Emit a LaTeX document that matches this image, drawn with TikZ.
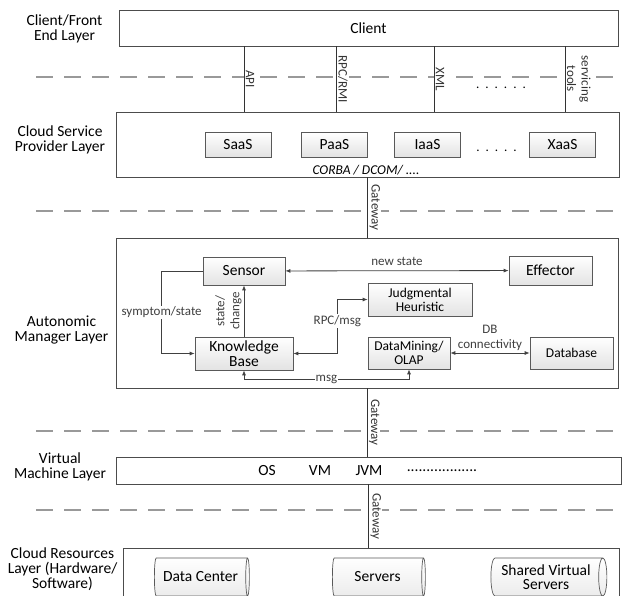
\documentclass[tikz,border=0pt]{standalone}
\usepackage{fontspec}
\setmainfont{Carlito}
\usetikzlibrary{positioning, arrows.meta, shapes.geometric, calc}

\begin{document}
\begin{tikzpicture}[
    x=1pt, y=-1pt,
    tierbox/.style={draw=black!70, fill=white, rectangle, line width=0.8pt,
                    inner sep=0pt, font=\fontsize{15.5}{15}\selectfont},
    tiername/.style={align=center, font=\fontsize{15.5}{15}\selectfont},
    unit/.style={draw=black!65, top color=white, bottom color=gray!22,
                 rectangle, line width=0.7pt, align=center, inner sep=1pt,
                 font=\fontsize{15.5}{15}\selectfont},
    smallunit/.style={unit, font=\fontsize{13.5}{14}\selectfont},
    store/.style={cylinder, draw=black!65, top color=white, bottom color=gray!15,
                  line width=0.7pt, shape aspect=0.3, align=center, inner sep=1pt,
                  minimum width=38pt, font=\fontsize{15.5}{14.5}\selectfont},
    divider/.style={gray!80, line width=1.1pt, dash pattern=on 17pt off 11pt},
    wire/.style={black!80, line width=0.9pt},
    wirelabel/.style={midway, sloped, above=0.5pt, fill=white, inner sep=1pt,
                      align=center, font=\fontsize{13}{14.5}\selectfont},
    flow/.style={black!75, line width=0.8pt, -{Latex[length=5pt, width=4pt]}},
    flowboth/.style={flow, {Latex[length=5pt, width=4pt]}-{Latex[length=5pt, width=4pt]}},
    flowlabel/.style={fill=white, inner sep=1pt, align=center,
                      font=\fontsize{13}{15}\selectfont},
    plain/.style={font=\fontsize{15.5}{15}\selectfont},
    dotrow/.style={font=\fontsize{13}{13}\selectfont},
]
\clip (0,0) rectangle (623,596);

% separators between the layers
\foreach \yy in {77, 211, 431, 510}
  \draw[divider] (36,\yy) -- (623,\yy);

% layers
\node[tierbox, minimum width=499pt, minimum height=36pt] (client) at (368.5,28) {Client};
\node[tierbox, minimum width=503pt, minimum height=65pt] (cloud) at (367.5,144.5) {};
\node[tierbox, minimum width=502pt, minimum height=150pt] (autonomic) at (367,313) {};
\node[tierbox, minimum width=505pt, minimum height=27pt] (vm) at (368.5,470.5) {};
\node[tierbox, minimum width=496pt, minimum height=70pt, anchor=north] (resources) at (371,548) {};

\node[tiername] (clientname) at (64.5,29) {Client/Front\\End Layer};
\node[tiername] (cloudname) at (60,140) {Cloud Service\\Provider Layer};
\node[tiername] (autoname) at (61.5,330) {Autonomic\\Manager Layer};
\node[tiername] (vmname) at (60,467) {Virtual\\Machine Layer};
\node[tiername] (resname) at (62.5,569) {Cloud Resources\\Layer (Hardware/\\Software)};

% client -> provider interfaces
\foreach \xx/\proto in {244/API, 336/{RPC/RMI}, 434/XML, 565/{servicing\\tools}}
  \draw[wire] (client.south -| \xx,0) -- (cloud.north -| \xx,0)
    node[wirelabel] {\proto};
\node[dotrow] (dotsa) at (501,88) {.\hspace{6pt}.\hspace{6pt}.\hspace{6pt}.\hspace{6pt}.\hspace{6pt}.};

% provider layer
\node[unit, minimum width=66pt, minimum height=25pt] (saas) at (238,144.5) {SaaS};
\node[unit, minimum width=66pt, minimum height=25pt] (paas) at (334.5,144.5) {PaaS};
\node[unit, minimum width=66pt, minimum height=25pt] (iaas) at (427.5,144.5) {IaaS};
\node[unit, minimum width=66pt, minimum height=25pt] (xaas) at (562.5,144.5) {XaaS};
\node[dotrow] (dotsb) at (496.5,151) {.\hspace{6pt}.\hspace{6pt}.\hspace{6pt}.\hspace{6pt}.};
\node[font=\fontsize{13.5}{14}\selectfont\itshape] (corba) at (366,170) {CORBA / DCOM/ ....};

% gateways
\draw[wire] (cloud.south) -- (cloud.south |- autonomic.north) node[wirelabel] {Gateway};
\draw[wire] (autonomic.south) -- (autonomic.south |- vm.north) node[wirelabel] {Gateway};
\draw[wire] (vm.south) -- (vm.south |- resources.north) node[wirelabel] {Gateway};

% autonomic manager
\node[unit, minimum width=82pt, minimum height=28pt] (sensor) at (244,271) {Sensor};
\node[unit, minimum width=83pt, minimum height=29pt] (effector) at (550.5,270.5) {Effector};
\node[smallunit, minimum width=104pt, minimum height=33pt] (judg) at (420,299.5) {Judgmental\\Heuristic};
\node[unit, minimum width=98pt, minimum height=33pt] (kb) at (244,353.5) {Knowledge\\Base};
\node[smallunit, minimum width=82pt, minimum height=32pt] (dm) at (409,353) {DataMining/\\OLAP};
\node[smallunit, minimum width=83pt, minimum height=32pt] (db) at (571.5,353) {Database};

\draw[flowboth] (sensor) -- (effector)
    node[flowlabel, midway, above=4pt] {new state};
\draw[flow] (sensor.west) -- ++(-41,0) |- (kb.west)
    node[flowlabel, pos=0.25] {symptom/state};
\draw[flow] (kb) -- (sensor)
    node[flowlabel, midway, sloped, above=1pt] {state/\\change};
\draw[flowboth] (kb.east) -- ++(44,0) |- (judg.west)
    node[flowlabel, pos=0.3] {RPC/msg};
\draw[flowboth] (kb.south) -- ++(0,9.5) -| (dm.south)
    node[flowlabel, pos=0.25] {msg};
\draw[flowboth] (dm) -- (db)
    node[flowlabel, midway, above=1pt, fill=none] {DB\\connectivity};

% virtual machine layer
\node[plain] (os) at (267,470.5) {OS};
\node[plain] (vmitem) at (320,470.5) {VM};
\node[plain] (jvm) at (369,470.5) {JVM};
\node[plain] (vmdots) at (442,470.5) {..................};

% resources
\node[store, minimum height=95pt] (datacenter) at (200.5,577) {Data Center};
\node[store, minimum height=93pt] (servers) at (377.5,577) {Servers};
\node[store, minimum height=116pt] (shared) at (546,577) {Shared Virtual\\Servers};
\end{tikzpicture}
\end{document}
